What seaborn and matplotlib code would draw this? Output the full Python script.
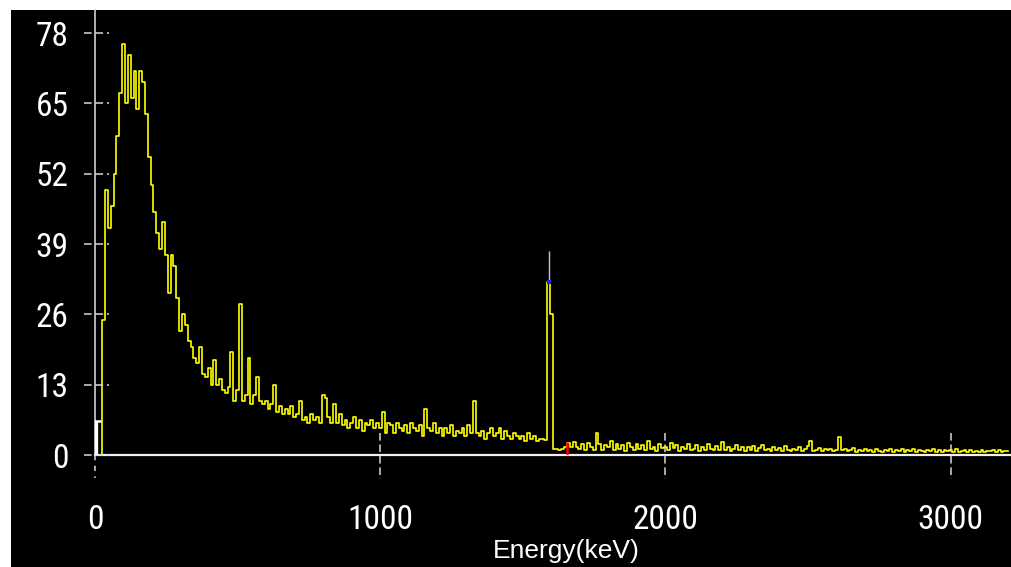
import numpy as np
import matplotlib
matplotlib.use("Agg")
import matplotlib.pyplot as plt
from matplotlib.patches import Rectangle
from matplotlib import font_manager as fm
import seaborn as sns

# ---------------- data ----------------
energy_step = 10  # keV per channel bin shown
counts = [
    0, 0, 0, 25, 49, 42, 46, 52, 59, 67,            # 0-90
    76, 65, 74, 66, 71, 64, 71, 69, 63, 55,         # 100-190
    50, 45, 41, 38, 43, 37, 30, 37, 35, 29,         # 200-290
    23, 26, 24, 21, 20, 18, 17, 20, 15, 14.5,       # 300-390
    16, 13, 17.5, 13, 14, 12, 11.5, 12.5, 19, 10,   # 400-490
    12, 28, 10, 11, 18, 9.5, 11, 14.5, 10, 9.5,     # 500-590
    10, 8.5, 9.5, 13, 8, 9, 7.5, 8.5, 7.5, 9,       # 600-690
    7, 7.5, 10, 6.5, 7, 6, 7.5, 6.5, 7, 6,          # 700-790
    11, 10.5, 7, 6, 9.5, 6, 7.5, 5.5, 6.5, 5,       # 800-890
    6, 7, 5, 6.5, 4.5, 6, 5.5, 6.5, 5, 6,           # 900-990
    5, 8, 4, 6, 5.5, 4, 6, 5, 4.5, 5.5,             # 1000-1090
    4, 6, 5, 4.5, 5.5, 3.5, 8.5, 5, 4.5, 6,         # 1100-1190
    4, 5, 3.5, 5, 4, 5.5, 3.5, 4.5, 4, 5,           # 1200-1290
    3.5, 5.5, 4, 10, 4, 3.5, 4.5, 3, 4, 5,          # 1300-1390
    3.5, 4, 5, 3, 4.5, 3.5, 3, 4, 3.5, 3,           # 1400-1490
    3.5, 2.5, 4, 3, 3.5, 2.5, 3, 3, 2.8, 32,        # 1500-1590
    26, 1.2, 1.2, 1, 1.2, 1.5, 2.2, 1.5, 2.4, 1.5,  # 1600-1690
    1.2, 2, 1, 2.2, 1.5, 1, 4, 2, 1, 1.8,           # 1700-1790
    1.5, 2.5, 1, 2, 1.2, 1.8, 0.8, 2.2, 1.5, 1,     # 1800-1890
    2, 1.2, 1.8, 1, 2.5, 1.2, 1.5, 0.8, 2, 1.3,     # 1900-1990
    1.5, 1, 2.2, 1.3, 1.8, 0.8, 1.5, 1.2, 2, 1,     # 2000-2090
    1.2, 1.8, 0.8, 1.5, 1, 2, 1.2, 0.9, 1.6, 1,     # 2100-2190
    2.4, 1, 1.5, 0.8, 1.2, 1.8, 1, 1.4, 0.8, 1.5,   # 2200-2290
    1, 1.6, 0.8, 1.3, 1.9, 0.9, 1.2, 0.7, 1.5, 1,   # 2300-2390
    1.3, 0.8, 1.6, 1, 0.7, 1.2, 0.9, 1.4, 0.8, 1.1, # 2400-2490
    1.7, 2.5, 0.8, 1, 1.3, 0.7, 1.1, 0.9, 1.2, 0.8, # 2500-2590
    1, 3.4, 0.9, 1.2, 0.7, 1, 1.3, 0.6, 1, 0.8,     # 2600-2690
    1.1, 0.7, 1, 0.6, 1.2, 0.8, 0.5, 1, 0.7, 1.1,   # 2700-2790
    0.6, 1, 0.8, 1.2, 0.5, 0.9, 0.7, 1.1, 0.6, 1,   # 2800-2890
    0.8, 0.5, 1, 0.7, 1.2, 0.6, 0.9, 0.5, 1, 0.7,   # 2900-2990
    0.9, 0.6, 1.1, 0.5, 0.8, 1, 0.6, 0.9, 0.5, 0.8, # 3000-3090
    0.6, 1, 0.5, 0.8, 0.7, 1, 0.5, 0.9, 0.6, 0.8,   # 3100-3190
    0.7,                                            # 3200
]
energy = np.arange(len(counts)) * energy_step

x_ticks = [0, 1000, 2000, 3000]
y_ticks = [0, 13, 26, 39, 52, 65, 78]

# cursors / markers shown on the spectrum (energy keV, low count, high count)
cursor_T = (5, 0, 6.2)
peak_marker = (1592, 32, 37.7)
red_marker = (1655, 0, 2.4)

x_max = 3215
y_max = 82.26

# ---------------- fonts ----------------
_names = {f.name for f in fm.fontManager.ttflist}
if "Liberation Sans Narrow" in _names:
    tick_font = dict(family=["Liberation Sans Narrow", "DejaVu Sans"], size=24)
elif "Roboto Condensed" in _names:
    tick_font = dict(family=["Roboto Condensed", "DejaVu Sans"], size=24)
elif "Arial Narrow" in _names:
    tick_font = dict(family=["Arial Narrow", "DejaVu Sans"], size=24)
else:
    tick_font = dict(family=["Liberation Sans", "DejaVu Sans"], size=21)

# ---------------- figure ----------------
W, H = 1012, 567
fig = plt.figure(figsize=(W / 100, H / 100), dpi=100)
fig.patch.set_facecolor("white")
fig.patches.append(Rectangle((11 / W, 0), 1 - 11 / W, (H - 10) / H,
                             transform=fig.transFigure, facecolor="black",
                             edgecolor="none", zorder=-10))

ax = fig.add_axes([95 / W, (H - 455) / H, 917 / W, 445 / H])
ax.set_zorder(1)
ax.set_facecolor("black")

sns.lineplot(x=energy, y=counts, ax=ax, color="#ffff00", linewidth=1.2,
             drawstyle="steps-mid", estimator=None, legend=False, zorder=2)

ax.set_xlim(0, x_max)
ax.set_ylim(0, y_max)

for s in ["top", "right"]:
    ax.spines[s].set_visible(False)
ax.spines["left"].set_color("#d0d0d0")
ax.spines["left"].set_linewidth(1.2)
ax.spines["bottom"].set_color("#f0f0f0")
ax.spines["bottom"].set_linewidth(1.6)

ax.set_xticks(x_ticks)
ax.set_yticks(y_ticks)
ax.set_xticklabels([str(v) for v in x_ticks])
ax.set_yticklabels([str(v) for v in y_ticks])
ax.tick_params(axis="both", length=0, colors="white")
ax.tick_params(axis="x", pad=35)
ax.tick_params(axis="y", pad=19)
for lab in ax.get_xticklabels() + ax.get_yticklabels():
    lab.set_fontfamily(tick_font["family"])
    lab.set_fontsize(tick_font["size"])
    lab.set_color("white")

# dashed cross-shaped tick marks
dash_kw = dict(color="#d8d8d8", linewidth=1.1, linestyle=(0, (5, 2.5)),
               clip_on=False, zorder=3)
ytr = ax.get_yaxis_transform()
for v in y_ticks:
    ax.plot([-11 / 917, 14 / 917], [v, v], transform=ytr, **dash_kw)
xtr = ax.get_xaxis_transform()
for v in x_ticks:
    if v == 0:
        ax.plot([v, v], [0, -23 / 445], transform=xtr,
                **{**dash_kw, "linestyle": (0, (3.5, 3.5))})
    else:
        ax.plot([v, v], [22 / 445, -24 / 445], transform=xtr, **dash_kw)

# cursor markers
e, lo, hi = cursor_T
ax.vlines(e, lo, hi, color="white", linewidth=2.4, zorder=4)
ax.hlines(hi, e - 18, e + 16, color="white", linewidth=1.8, zorder=4)
e, lo, hi = peak_marker
ax.vlines(e, lo, hi, color="#c8c8c8", linewidth=1.0, zorder=4)
ax.plot([e], [lo], marker="s", markersize=2.2, color="#2020ff",
        markeredgewidth=0, zorder=5)
e, lo, hi = red_marker
ax.vlines(e, lo, hi, color="#ff0000", linewidth=1.8, zorder=4)

ax.set_xlabel("Energy(keV)", fontsize=19, color="white",
              fontfamily=["Liberation Sans", "DejaVu Sans"])
ax.xaxis.set_label_coords((566 - 95) / 917, (455 - 558) / 445)
ax.xaxis.label.set_va("baseline")
ax.set_ylabel("")

fig.savefig("out.png", dpi=100, facecolor=fig.get_facecolor())
